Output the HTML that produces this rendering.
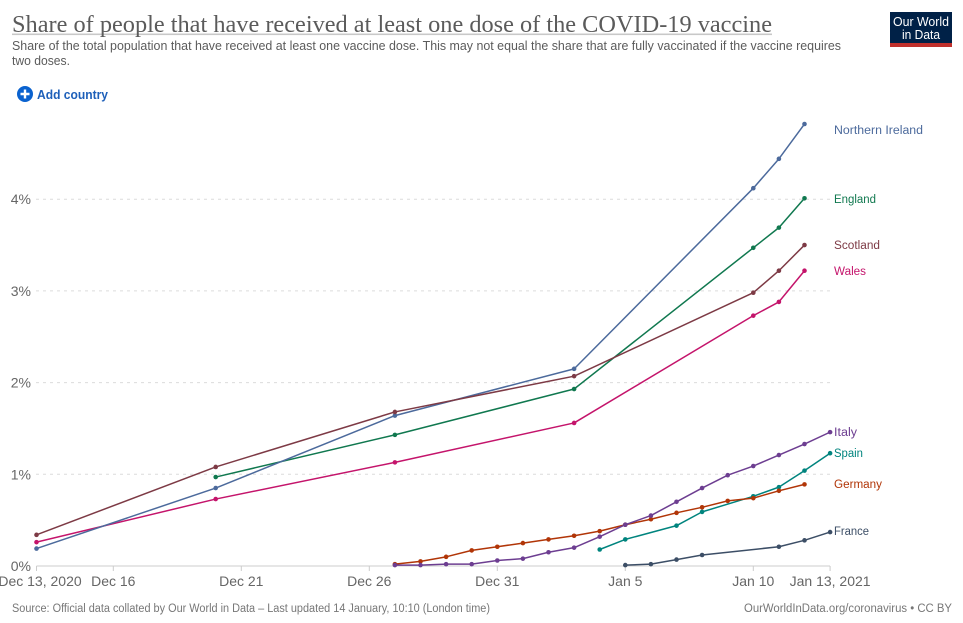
<!DOCTYPE html>
<html lang="en">
<head>
<meta charset="utf-8">
<title>Share of people that have received at least one dose of the COVID-19 vaccine</title>
<style>
html,body{margin:0;padding:0;background:#fff;width:963px;height:623px;overflow:hidden}
svg{display:block;font-family:"Liberation Sans",sans-serif}
</style>
</head>
<body>
<svg id="chart" width="963" height="623" viewBox="0 0 963 623" xmlns="http://www.w3.org/2000/svg">
  <rect x="12" y="33.5" width="760" height="1.6" fill="#c8c8c8"/>
  <text x="12" y="32" font-family="'Liberation Serif',serif" font-size="24" fill="#5b5b5b" textLength="760" lengthAdjust="spacingAndGlyphs">Share of people that have received at least one dose of the COVID-19 vaccine</text>
  <text x="12" y="50" font-size="12.5" fill="#5b5b5b" textLength="829" lengthAdjust="spacingAndGlyphs">Share of the total population that have received at least one vaccine dose. This may not equal the share that are fully vaccinated if the vaccine requires</text>
  <text x="12" y="65" font-size="12.5" fill="#5b5b5b" textLength="58" lengthAdjust="spacingAndGlyphs">two doses.</text>

  <g>
    <rect x="890" y="12" width="62" height="35" fill="#002147"/>
    <rect x="890" y="43" width="62" height="4" fill="#c0302c"/>
    <text x="921" y="26" font-size="12.5" fill="#fff" text-anchor="middle" textLength="56" lengthAdjust="spacingAndGlyphs">Our World</text>
    <text x="921" y="39" font-size="12.5" fill="#fff" text-anchor="middle" textLength="38" lengthAdjust="spacingAndGlyphs">in Data</text>
  </g>

  <g>
    <circle cx="25" cy="94" r="8" fill="#0a62cf"/>
    <path d="M25 89.5v9M20.5 94h9" stroke="#fff" stroke-width="2.4" fill="none"/>
    <text x="37" y="99" font-size="13" font-weight="bold" fill="#1d5fb9" textLength="71" lengthAdjust="spacingAndGlyphs">Add country</text>
  </g>

  <g id="grid"></g>
  <g id="axes"></g>
  <g id="series"></g>

  <g font-size="11.5">
    <text x="834" y="134" fill="#4c6a9c" textLength="89" lengthAdjust="spacingAndGlyphs">Northern Ireland</text>
    <text x="834" y="203" fill="#10784f" textLength="42" lengthAdjust="spacingAndGlyphs">England</text>
    <text x="834" y="249" fill="#7d3a45" textLength="46" lengthAdjust="spacingAndGlyphs">Scotland</text>
    <text x="834" y="275" fill="#c4146b" textLength="32" lengthAdjust="spacingAndGlyphs">Wales</text>
    <text x="834" y="436" fill="#6d3e91" textLength="23" lengthAdjust="spacingAndGlyphs">Italy</text>
    <text x="834" y="457" fill="#00847e" textLength="29" lengthAdjust="spacingAndGlyphs">Spain</text>
    <text x="834" y="488" fill="#b13507" textLength="48" lengthAdjust="spacingAndGlyphs">Germany</text>
    <text x="834" y="535" fill="#3c4e66" textLength="35" lengthAdjust="spacingAndGlyphs">France</text>
  </g>

  <text x="12" y="612" font-size="11.5" fill="#777" textLength="478" lengthAdjust="spacingAndGlyphs">Source: Official data collated by Our World in Data – Last updated 14 January, 10:10 (London time)</text>
  <text x="744" y="612" font-size="11.5" fill="#777" textLength="208" lengthAdjust="spacingAndGlyphs">OurWorldInData.org/coronavirus • CC BY</text>
</svg>
<script>
// Days are counted from Dec 13, 2020.
const yTickValues = [0, 1, 2, 3, 4];
const xTickDays = [0, 3, 8, 13, 18, 23, 28, 31];
const xTickLabels = ["Dec 13, 2020", "Dec 16", "Dec 21", "Dec 26", "Dec 31", "Jan 5", "Jan 10", "Jan 13, 2021"];

const northernIrelandDays = [0, 7, 14, 21, 28, 29, 30];
const northernIrelandValues = [0.19, 0.85, 1.64, 2.15, 4.12, 4.44, 4.82];
const englandDays = [7, 14, 21, 28, 29, 30];
const englandValues = [0.97, 1.43, 1.93, 3.47, 3.69, 4.01];
const scotlandDays = [0, 7, 14, 21, 28, 29, 30];
const scotlandValues = [0.34, 1.08, 1.68, 2.07, 2.98, 3.22, 3.5];
const walesDays = [0, 7, 14, 21, 28, 29, 30];
const walesValues = [0.26, 0.73, 1.13, 1.56, 2.73, 2.88, 3.22];
const italyDays = [14, 15, 16, 17, 18, 19, 20, 21, 22, 23, 24, 25, 26, 27, 28, 29, 30, 31];
const italyValues = [0.01, 0.01, 0.02, 0.02, 0.06, 0.08, 0.15, 0.2, 0.32, 0.45, 0.55, 0.7, 0.85, 0.99, 1.09, 1.21, 1.33, 1.46];
const germanyDays = [14, 15, 16, 17, 18, 19, 20, 21, 22, 23, 24, 25, 26, 27, 28, 29, 30];
const germanyValues = [0.02, 0.05, 0.1, 0.17, 0.21, 0.25, 0.29, 0.33, 0.38, 0.45, 0.51, 0.58, 0.64, 0.71, 0.74, 0.82, 0.89];
const spainDays = [22, 23, 25, 26, 28, 29, 30, 31];
const spainValues = [0.18, 0.29, 0.44, 0.59, 0.76, 0.86, 1.04, 1.23];
const franceDays = [23, 24, 25, 26, 29, 30, 31];
const franceValues = [0.01, 0.02, 0.07, 0.12, 0.21, 0.28, 0.37];

function xScale(day) { return 36.5 + day * 25.6; }
function yScale(pct) { return 566 - pct * 91.7; }

const SVG_NS = "http://www.w3.org/2000/svg";
function make(tag, attrs, parent) {
  const el = document.createElementNS(SVG_NS, tag);
  for (const k in attrs) el.setAttribute(k, attrs[k]);
  parent.appendChild(el);
  return el;
}

const grid = document.getElementById("grid");
const axes = document.getElementById("axes");
const seriesGroup = document.getElementById("series");

yTickValues.forEach(function (v) {
  if (v > 0) {
    const line = make("line", {x1: 36, x2: 830, y1: yScale(v), y2: yScale(v), stroke: "#dcdcdc", "stroke-dasharray": "3,4"}, grid);
    
    
  }
  const label = make("text", {x: 31, y: yScale(v) + 5, "text-anchor": "end", "font-size": 14, fill: "#666"}, axes);
  
  
  label.textContent = v + "%";
});

const axisLine = make("line", {x1: 36.5, x2: 830, y1: 566, y2: 566, stroke: "#ccc"}, axes);



xTickDays.forEach(function (d, i) {
  const tick = make("line", {x1: xScale(d), x2: xScale(d), y1: 566, y2: 571, stroke: "#ccc"}, axes);
  
  
  const anchorX = i === 0 ? 40 : xScale(d);
  const label = make("text", {x: anchorX, y: 586, "text-anchor": "middle", "font-size": 14, fill: "#666"}, axes);
  
  
  label.textContent = xTickLabels[i];
});

function drawSeries(name, color, days, values) {
  const g = make("g", {}, seriesGroup);
  
  
  const pts = days.map(function (d, i) { return xScale(d) + "," + yScale(values[i]); }).join(" ");
  const line = make("polyline", {points: pts, fill: "none", stroke: color, "stroke-width": 1.5, "stroke-linejoin": "round"}, g);
  
  
  days.forEach(function (d, i) {
    const dot = make("circle", {cx: xScale(d), cy: yScale(values[i]), r: 2.3, fill: color}, g);
    
    
  });
}

drawSeries("france", "#3c4e66", franceDays, franceValues);
drawSeries("spain", "#00847e", spainDays, spainValues);
drawSeries("germany", "#b13507", germanyDays, germanyValues);
drawSeries("italy", "#6d3e91", italyDays, italyValues);
drawSeries("wales", "#c4146b", walesDays, walesValues);
drawSeries("england", "#10784f", englandDays, englandValues);
drawSeries("northern-ireland", "#4c6a9c", northernIrelandDays, northernIrelandValues);
drawSeries("scotland", "#7d3a45", scotlandDays, scotlandValues);
</script>
</body>
</html>
